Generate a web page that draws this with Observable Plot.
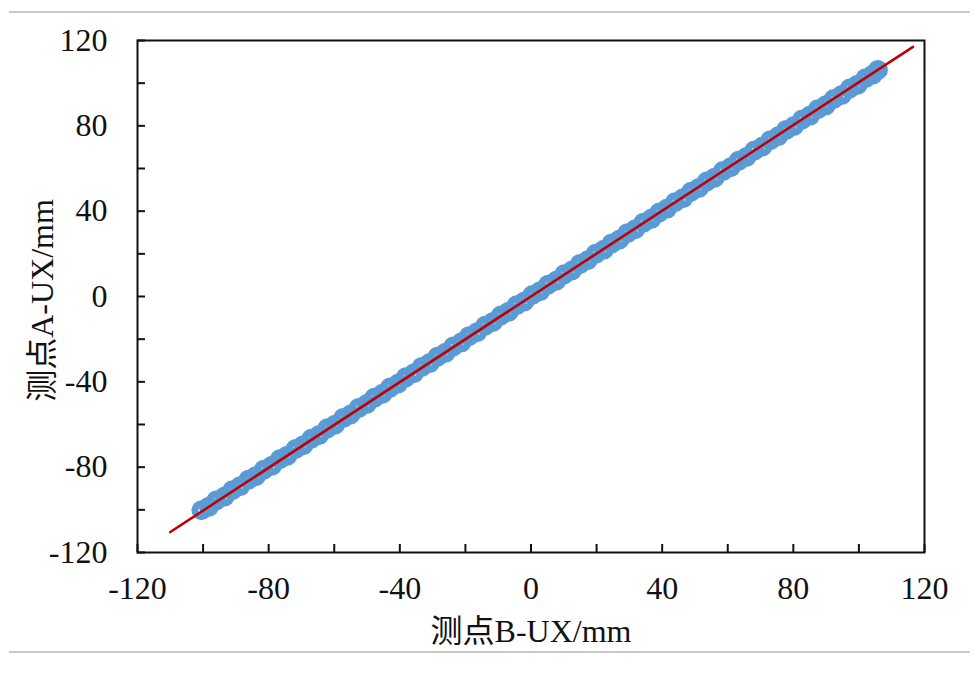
<!DOCTYPE html>
<html>
<head>
<meta charset="utf-8">
<script src="https://cdn.jsdelivr.net/npm/d3@7"></script>
<script src="https://cdn.jsdelivr.net/npm/@observablehq/plot@0.6"></script>
<style>
  html, body { margin: 0; padding: 0; background: #fff; }
  #wrap { position: relative; width: 979px; height: 683px; overflow: hidden; }
  .sep { position: absolute; left: 9px; width: 961px; height: 2px; background: #c9c9c9; }
</style>
</head>
<body>
<div id="wrap">
  <div class="sep" style="top:11px"></div>
  <div class="sep" style="top:651px"></div>
</div>
<script>
// Measured displacement at point B (x) and point A (y), mm
const xB = [-100.5,-98.2,-96.0,-93.4,-91.1,-88.7,-86.2,-83.9,-81.5,-79.0,-76.6,-74.3,-71.8,-69.4,-67.0,-64.6,-62.1,-59.8,-57.3,-55.0,-52.6,-50.1,-47.8,-45.3,-43.0,-40.5,-38.2,-35.7,-33.3,-30.9,-28.5,-26.1,-23.7,-21.2,-18.9,-16.4,-14.0,-11.6,-9.2,-6.8,-4.4,-2.0,0.4,2.8,5.2,7.7,10.1,12.5,14.9,17.3,19.7,22.2,24.6,27.0,29.4,31.8,34.3,36.7,39.1,41.5,43.9,46.4,48.8,51.2,53.6,56.0,58.5,60.9,63.3,65.7,68.1,70.6,73.0,75.4,77.8,80.2,82.7,85.1,87.5,89.9,92.3,94.8,97.2,99.6,102.0,104.3,105.8];
const yA = [-100.2,-98.5,-95.6,-93.7,-90.8,-88.9,-85.9,-84.2,-81.2,-79.3,-76.3,-74.6,-71.5,-69.7,-66.7,-64.9,-61.8,-60.1,-57.0,-55.3,-52.3,-50.4,-47.5,-45.6,-42.7,-40.8,-37.9,-36.0,-33.0,-31.2,-28.2,-26.4,-23.4,-21.5,-18.6,-16.7,-13.7,-11.9,-8.9,-7.1,-4.1,-2.3,0.7,2.5,5.5,7.4,10.4,12.2,15.2,17.0,20.0,21.9,24.9,26.7,29.7,31.5,34.6,36.4,39.4,41.2,44.2,46.1,49.1,50.9,53.9,55.7,58.8,60.6,63.6,65.4,68.4,70.3,73.3,75.1,78.1,79.9,83.0,84.8,87.8,89.6,92.6,94.5,97.5,99.3,102.3,104.1,106.2];
// Fitted line endpoints
const fitX = [-110.0, 116.5];
const fitY = [-110.4, 117.0];
// Axis ticks
const tickVals = [-120,-100,-80,-60,-40,-20,0,20,40,60,80,100,120];
const labelVals = [-120,-80,-40,0,40,80,120];

const pts = xB.map((x, i) => ({x, y: yA[i]}));
const fit = fitX.map((x, i) => ({x, y: fitY[i]}));
const fmt = d => labelVals.includes(d) ? String(d) : "";

const font = "'Liberation Serif', 'Noto Sans CJK SC', serif";

const chart = Plot.plot({
  width: 979,
  height: 683,
  marginLeft: 137,
  marginRight: 55,
  marginTop: 40,
  marginBottom: 131,
  style: {fontFamily: font, fontSize: "32px", color: "#111", background: "transparent", overflow: "visible"},
  x: {domain: [-120, 120]},
  y: {domain: [-120, 120]},
  marks: [
    Plot.dot(pts, {x: "x", y: "y", r: 6.5, stroke: "#5B9BD5", strokeWidth: 7, fill: "none"}),
    Plot.line(fit, {x: "x", y: "y", stroke: "#C00000", strokeWidth: 2.6}),
    Plot.frame({stroke: "#111", strokeWidth: 2}),
    Plot.axisX({ticks: tickVals, tickFormat: fmt, tickSize: -8, tickPadding: 32, strokeWidth: 2, label: null, fontSize: 32}),
    Plot.axisY({ticks: tickVals, tickFormat: fmt, tickSize: -8, tickPadding: 38, strokeWidth: 2, label: null, fontSize: 32}),
    Plot.text(["测点B-UX/mm"], {frameAnchor: "bottom", dy: 79, text: d => d, fontSize: 32, textAnchor: "middle", lineAnchor: "middle"}),
    Plot.text(["测点A-UX/mm"], {frameAnchor: "left", dx: -95, dy: 4, text: d => d, fontSize: 32, rotate: -90, textAnchor: "middle", lineAnchor: "middle"})
  ]
});
chart.style.position = "absolute";
chart.style.left = "0px";
chart.style.top = "0px";
document.getElementById("wrap").appendChild(chart);
</script>
</body>
</html>
